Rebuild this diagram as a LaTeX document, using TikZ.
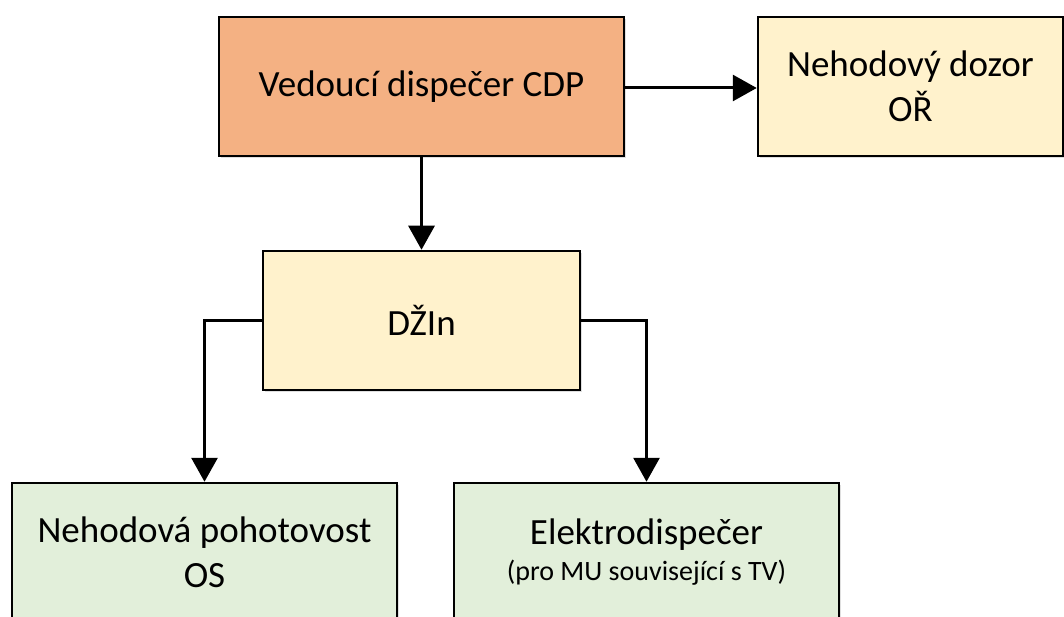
\documentclass[tikz,border=0pt]{standalone}
\usepackage{fontspec}
\setmainfont{Carlito}
\usetikzlibrary{arrows.meta,shadows}
\definecolor{salmon}{HTML}{F4B183}
\definecolor{lyellow}{HTML}{FFF2CC}
\definecolor{lgreen}{HTML}{E2EFDA}
\begin{document}
\begin{tikzpicture}[x=1pt,y=-1pt,
  box/.style={draw=black,line width=2.5pt,rectangle,inner sep=0pt,align=center,
    font=\fontsize{37}{45}\selectfont,
    drop shadow={shadow xshift=2pt,shadow yshift=-2pt,opacity=0.25,fill=gray}},
  conn/.style={line width=3pt,-{Triangle[length=24pt,width=26pt]}}]
\useasboundingbox (0,0) rectangle (1064,617);
\clip (0,0) rectangle (1064,617);
\fill[white] (0,0) rectangle (1064,617);
\node[box,fill=salmon,minimum width=405pt,minimum height=139pt] (cdp) at (421.5,86.5) {Vedoucí dispečer CDP};
\node[box,fill=lyellow,minimum width=305pt,minimum height=139pt] (or) at (910.5,86.5) {Nehodový dozor\\OŘ};
\node[box,fill=lyellow,minimum width=317pt,minimum height=139pt] (dzin) at (421.5,320.5) {DŽIn};
\node[box,fill=lgreen,minimum width=385pt,minimum height=139pt] (os) at (204.5,552.5) {Nehodová pohotovost\\OS};
\node[box,fill=lgreen,minimum width=385pt,minimum height=139pt] (el) at (646.5,552.5) {Elektrodispečer\\[-9pt]{\fontsize{28}{34}\selectfont (pro MU související s TV)}};
\draw[conn] (cdp.south) -- (dzin.north);
\draw[conn] (cdp.east |- 0,88) -- (or.west |- 0,88);
\draw[conn] (dzin.west) -| (os.north);
\draw[conn] (dzin.east) -| (el.north);
\end{tikzpicture}
\end{document}
